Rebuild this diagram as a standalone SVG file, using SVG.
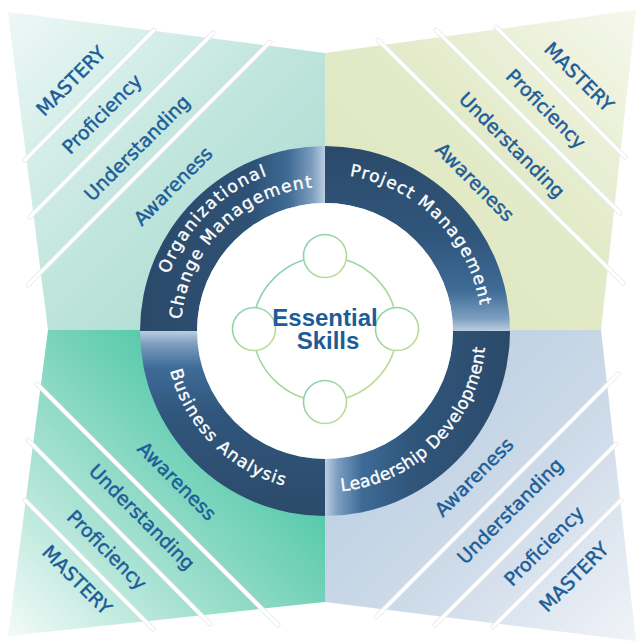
<svg xmlns="http://www.w3.org/2000/svg" width="638" height="644" viewBox="0 0 638 644">
<defs>
<linearGradient id="gTL" gradientUnits="userSpaceOnUse" x1="8" y1="12" x2="325" y2="330">
<stop offset="0" stop-color="#eef8f6"/><stop offset="0.5" stop-color="#c0e5dd"/><stop offset="1" stop-color="#a5d8cd"/>
</linearGradient>
<linearGradient id="gTR" gradientUnits="userSpaceOnUse" x1="636" y1="10" x2="325" y2="330">
<stop offset="0" stop-color="#f5f8ec"/><stop offset="0.45" stop-color="#e3eac8"/><stop offset="1" stop-color="#dbe6bc"/>
</linearGradient>
<linearGradient id="gBL" gradientUnits="userSpaceOnUse" x1="8" y1="636" x2="325" y2="330">
<stop offset="0" stop-color="#f4fbf9"/><stop offset="0.35" stop-color="#a3e0cf"/><stop offset="0.7" stop-color="#58caac"/><stop offset="1" stop-color="#3ec3a3"/>
</linearGradient>
<linearGradient id="gBR" gradientUnits="userSpaceOnUse" x1="636" y1="641" x2="325" y2="330">
<stop offset="0" stop-color="#f1f4f8"/><stop offset="0.4" stop-color="#cedbe9"/><stop offset="1" stop-color="#b3cadf"/>
</linearGradient>
<linearGradient id="rOCM" gradientUnits="userSpaceOnUse" x1="140" y1="0" x2="325" y2="0">
<stop offset="0" stop-color="#2b4a6a"/><stop offset="0.6" stop-color="#2e5175"/><stop offset="0.8" stop-color="#3e6a94"/><stop offset="0.93" stop-color="#7c9dbf"/><stop offset="1" stop-color="#bccee1"/>
</linearGradient>
<linearGradient id="rPM" gradientUnits="userSpaceOnUse" x1="0" y1="146" x2="0" y2="331">
<stop offset="0" stop-color="#2b4a6a"/><stop offset="0.5" stop-color="#30567c"/><stop offset="0.78" stop-color="#3e6b96"/><stop offset="0.93" stop-color="#7c9dbf"/><stop offset="1" stop-color="#bccee1"/>
</linearGradient>
<linearGradient id="rLD" gradientUnits="userSpaceOnUse" x1="510" y1="0" x2="325" y2="0">
<stop offset="0" stop-color="#2b4a6a"/><stop offset="0.55" stop-color="#30567c"/><stop offset="0.8" stop-color="#3e6b96"/><stop offset="0.93" stop-color="#7c9dbf"/><stop offset="1" stop-color="#bccee1"/>
</linearGradient>
<linearGradient id="rBA" gradientUnits="userSpaceOnUse" x1="0" y1="516" x2="0" y2="331">
<stop offset="0" stop-color="#2b4a6a"/><stop offset="0.55" stop-color="#30567c"/><stop offset="0.8" stop-color="#3e6b96"/><stop offset="0.93" stop-color="#7c9dbf"/><stop offset="1" stop-color="#bccee1"/>
</linearGradient>
<linearGradient id="gCirc" x1="0" y1="0" x2="1" y2="1">
<stop offset="0" stop-color="#7fcfb4"/><stop offset="1" stop-color="#c6dd8c"/>
</linearGradient>
<path id="pOrg" d="M159,331 A166,166 0 0 1 325,165"/>
<path id="pChg" d="M181,331 A144,144 0 0 1 325,187"/>
<path id="pPM" d="M325,174 A157,157 0 0 1 482,331"/>
<path id="pLD" d="M325,492 A161,161 0 0 0 486,331"/>
<path id="pBA" d="M165,331 A160,160 0 0 0 325,491"/>
</defs>
<style>
.lvl{font-family:"DejaVu Sans",sans-serif;font-size:19px;fill:#1c5d98;stroke:#1c5d98;stroke-width:0.45px;text-anchor:middle}
.ring{font-family:"DejaVu Sans",sans-serif;font-size:17px;fill:#ffffff;stroke:#ffffff;stroke-width:0.35px;letter-spacing:1.2px}
.edge{stroke:#e2e7e7;stroke-width:4.8;stroke-linecap:round}
.sep{stroke:#ffffff;stroke-width:3.4;stroke-linecap:round}
.center{font-family:"Liberation Sans",Arial,sans-serif;font-weight:bold;font-size:24px;fill:#1c5d98;text-anchor:middle}
</style>

<g id="quadrant-tl">
<polygon points="8,12 325,53 325,330 48,330" fill="url(#gTL)"/>
</g>
<g id="quadrant-tr">
<polygon points="325,53 636,10 601,330 325,330" fill="url(#gTR)"/>
</g>
<g id="quadrant-br">
<polygon points="325,330 601,330 636,641 325,602" fill="url(#gBR)"/>
</g>
<g id="quadrant-bl">
<polygon points="48,330 325,330 325,602 8,636" fill="url(#gBL)"/>
</g>

<g id="separators">
<g class="edge">
<line x1="25" y1="160" x2="154" y2="30"/><line x1="30" y1="217" x2="213" y2="33"/><line x1="28" y1="285" x2="270" y2="42"/>
<line x1="378" y1="40" x2="623" y2="283"/><line x1="436" y1="30" x2="620" y2="213"/><line x1="496" y1="27" x2="625" y2="157"/>
<line x1="37" y1="384" x2="278" y2="625"/><line x1="28" y1="440" x2="210" y2="624"/><line x1="25" y1="500" x2="153" y2="629"/>
<line x1="376" y1="617" x2="618" y2="374"/><line x1="435" y1="625" x2="616" y2="444"/><line x1="493" y1="627" x2="621" y2="500"/>
</g>
<g class="sep">
<line x1="25" y1="160" x2="154" y2="30"/><line x1="30" y1="217" x2="213" y2="33"/><line x1="28" y1="285" x2="270" y2="42"/>
<line x1="378" y1="40" x2="623" y2="283"/><line x1="436" y1="30" x2="620" y2="213"/><line x1="496" y1="27" x2="625" y2="157"/>
<line x1="37" y1="384" x2="278" y2="625"/><line x1="28" y1="440" x2="210" y2="624"/><line x1="25" y1="500" x2="153" y2="629"/>
<line x1="376" y1="617" x2="618" y2="374"/><line x1="435" y1="625" x2="616" y2="444"/><line x1="493" y1="627" x2="621" y2="500"/>
</g>
</g>

<g id="levels-tl">
<text class="lvl" transform="translate(71,81) rotate(-45)" dy="0.35em">MASTERY</text>
<text class="lvl" transform="translate(102,114) rotate(-45)" dy="0.35em">Proficiency</text>
<text class="lvl" transform="translate(137,148) rotate(-45)" dy="0.35em">Understanding</text>
<text class="lvl" transform="translate(173,186) rotate(-45)" dy="0.35em">Awareness</text>
</g>
<g id="levels-tr">
<text class="lvl" transform="translate(579,77) rotate(45)" dy="0.35em">MASTERY</text>
<text class="lvl" transform="translate(546,109) rotate(45)" dy="0.35em">Proficiency</text>
<text class="lvl" transform="translate(512,145) rotate(45)" dy="0.35em">Understanding</text>
<text class="lvl" transform="translate(475,182) rotate(45)" dy="0.35em">Awareness</text>
</g>
<g id="levels-bl">
<text class="lvl" transform="translate(177,481) rotate(45)" dy="0.35em">Awareness</text>
<text class="lvl" transform="translate(142,517) rotate(45)" dy="0.35em">Understanding</text>
<text class="lvl" transform="translate(107,550) rotate(45)" dy="0.35em">Proficiency</text>
<text class="lvl" transform="translate(77,580) rotate(45)" dy="0.35em">MASTERY</text>
</g>
<g id="levels-br">
<text class="lvl" transform="translate(474,477) rotate(-45)" dy="0.35em">Awareness</text>
<text class="lvl" transform="translate(510,511) rotate(-45)" dy="0.35em">Understanding</text>
<text class="lvl" transform="translate(544,546) rotate(-45)" dy="0.35em">Proficiency</text>
<text class="lvl" transform="translate(574,577) rotate(-45)" dy="0.35em">MASTERY</text>
</g>

<g id="ring-ocm">
<path d="M140,331 A185,185 0 0 1 325,146 L325,203 A128,128 0 0 0 197,331 Z" fill="url(#rOCM)"/>
<text class="ring" style="letter-spacing:1.5px"><textPath href="#pOrg" startOffset="50%" text-anchor="middle">Organizational</textPath></text>
<text class="ring"><textPath href="#pChg" startOffset="50%" text-anchor="middle">Change Management</textPath></text>
</g>
<g id="ring-pm">
<path d="M325,146 A185,185 0 0 1 510,331 L453,331 A128,128 0 0 0 325,203 Z" fill="url(#rPM)"/>
<text class="ring"><textPath href="#pPM" startOffset="50%" text-anchor="middle">Project Management</textPath></text>
</g>
<g id="ring-ld">
<path d="M510,331 A185,185 0 0 1 325,516 L325,459 A128,128 0 0 0 453,331 Z" fill="url(#rLD)"/>
<text class="ring" style="letter-spacing:0.3px"><textPath href="#pLD" startOffset="50%" text-anchor="middle">Leadership Development</textPath></text>
</g>
<g id="ring-ba">
<path d="M325,516 A185,185 0 0 1 140,331 L197,331 A128,128 0 0 0 325,459 Z" fill="url(#rBA)"/>
<text class="ring"><textPath href="#pBA" startOffset="50%" text-anchor="middle">Business Analysis</textPath></text>
</g>

<g id="center">
<circle cx="325" cy="331" r="128" fill="#ffffff"/>
</g>
<g id="connectors">
<circle cx="325" cy="329" r="72" fill="none" stroke="url(#gCirc)" stroke-width="1.6"/>
</g>
<g id="node-top"><circle cx="325" cy="256" r="21.5" fill="#ffffff" stroke="url(#gCirc)" stroke-width="1.6"/></g>
<g id="node-left"><circle cx="254" cy="329" r="21.5" fill="#ffffff" stroke="url(#gCirc)" stroke-width="1.6"/></g>
<g id="node-right"><circle cx="397" cy="329" r="21.5" fill="#ffffff" stroke="url(#gCirc)" stroke-width="1.6"/></g>
<g id="node-bottom"><circle cx="325" cy="402" r="21.5" fill="#ffffff" stroke="url(#gCirc)" stroke-width="1.6"/></g>
<g id="center-label">
<text class="center" x="325" y="326">Essential</text>
<text class="center" x="328" y="349">Skills</text>
</g>
</svg>
